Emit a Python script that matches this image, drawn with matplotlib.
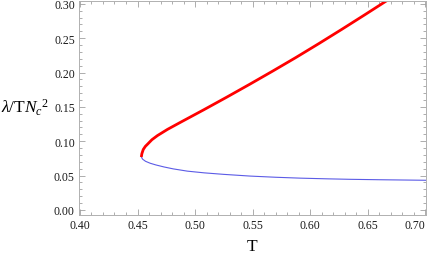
import numpy as np
import matplotlib
matplotlib.use("Agg")
import matplotlib.pyplot as plt
from matplotlib.ticker import MultipleLocator, FormatStrFormatter

# upper (red) branch
T_red = [0.4533, 0.4538, 0.4550, 0.4568, 0.4590, 0.4625, 0.4673, 0.4760, 0.4875,
         0.5075, 0.5275, 0.5475, 0.5675, 0.5875, 0.6075, 0.6275, 0.6475, 0.6675,
         0.6720]
L_red = [0.0770, 0.0820, 0.0880, 0.0925, 0.0962, 0.1022, 0.1082, 0.1172, 0.1277,
         0.1457, 0.1641, 0.1829, 0.2021, 0.2217, 0.2420, 0.2628, 0.2840, 0.3055,
         0.3105]

# lower (blue) branch
T_blue = [0.4533, 0.4545, 0.4570, 0.4610, 0.4660, 0.4730, 0.4810, 0.4933, 0.5080,
          0.5250, 0.5480, 0.5700, 0.5915, 0.6150, 0.6349, 0.6600, 0.7010]
L_blue = [0.0770, 0.0738, 0.0708, 0.0680, 0.0655, 0.0626, 0.0598, 0.0565, 0.0540,
          0.0518, 0.0493, 0.0476, 0.0463, 0.0453, 0.0446, 0.0440, 0.0432]

plt.rcParams['mathtext.fontset'] = 'custom'
plt.rcParams['mathtext.rm'] = 'Liberation Serif'
plt.rcParams['mathtext.it'] = 'Liberation Serif:italic'

fig = plt.figure(figsize=(4.29, 2.55), dpi=100)
ax = fig.add_axes([0.184, 0.153, 0.809, 0.839])

ax.plot(T_blue, L_blue, color='#5b5be6', lw=0.8, solid_capstyle='butt')
ax.plot(T_red, L_red, color='#ff0000', lw=2.0, solid_capstyle='butt',
        solid_joinstyle='round')

ax.set_xlim(0.3991, 0.7007)
ax.set_ylim(-0.0073, 0.3040)

ax.xaxis.set_major_locator(MultipleLocator(0.05))
ax.xaxis.set_minor_locator(MultipleLocator(0.01))
ax.yaxis.set_major_locator(MultipleLocator(0.05))
ax.yaxis.set_minor_locator(MultipleLocator(0.01))
ax.xaxis.set_major_formatter(FormatStrFormatter('%.2f'))
ax.yaxis.set_major_formatter(FormatStrFormatter('%.2f'))

ax.tick_params(which='both', direction='in', top=True, right=True,
               color='#a0a0a0', width=0.6, labelsize=8.5, labelcolor='#1a1a1a')
ax.tick_params(which='major', length=4, pad=3)
ax.tick_params(which='minor', length=2)
for s in ax.spines.values():
    s.set_color('#b0b0b0')
    s.set_linewidth(0.7)

ax.set_xlabel('T', family='Liberation Serif', fontsize=12.5, labelpad=5)
fig.text(0.003, 0.578, r'$\lambda/\mathrm{T}N_c{}^2$', fontsize=12.5,
         ha='left', va='center')

fig.canvas.draw()
xlabels = ax.get_xticklabels()
for lab in xlabels + ax.get_yticklabels():
    lab.set_family('Liberation Serif')
# last x label pulled inside the figure
for lab in xlabels:
    if lab.get_text() == '0.70':
        lab.set_horizontalalignment('right')

fig.savefig('out.png', dpi=100)
